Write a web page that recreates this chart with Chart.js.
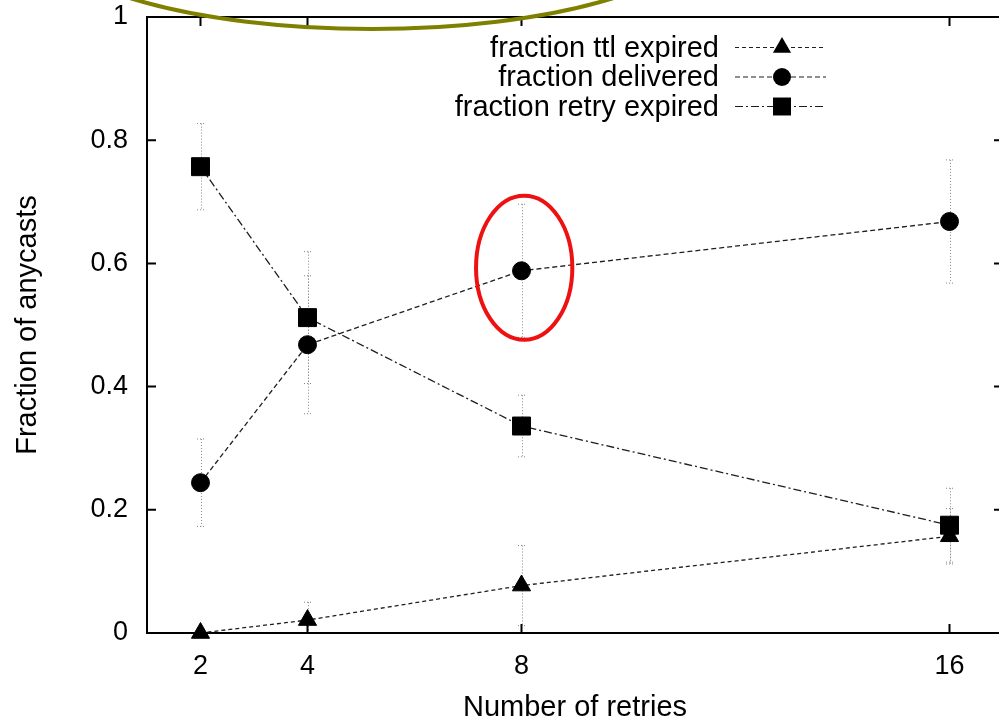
<!DOCTYPE html>
<html>
<head>
<meta charset="utf-8">
<style>
  html, body { margin: 0; padding: 0; overflow: hidden; background: #fff; }
  canvas { display: block; }
</style>
<script src="https://cdn.jsdelivr.net/npm/chart.js@4.4.1/dist/chart.umd.min.js"></script>
</head>
<body>
<canvas id="c" width="1010" height="722"></canvas>
<script>
// Outcome of anycast delivery versus retry limit
const retries = [2, 4, 8, 16];
const xTickValues = [2, 4, 8, 16];
const yTickValues = [0, 0.2, 0.4, 0.6, 0.8, 1];
const yTickLabels = ['0', '0.2', '0.4', '0.6', '0.8', '1'];

const ttlExpired      = [0.000, 0.021, 0.077, 0.157];
const ttlExpiredErr   = [0.000, 0.029, 0.065, 0.045];
const delivered       = [0.244, 0.468, 0.588, 0.668];
const deliveredErr    = [0.071, 0.112, 0.108, 0.100];
const retryExpired    = [0.757, 0.512, 0.336, 0.175];
const retryExpiredErr = [0.070, 0.107, 0.050, 0.060];

const seriesLabels = ['fraction ttl expired', 'fraction delivered', 'fraction retry expired'];

const FONT = 'Liberation Sans';
const LINE = '#1e1e1e';

function series(label, values, errs, style, radius, dash) {
  return {
    label,
    data: retries.map((x, i) => ({ x, y: values[i], err: errs[i] })),
    showLine: true,
    borderColor: LINE,
    borderWidth: 1.3,
    borderDash: dash,
    pointStyle: style,
    pointRadius: radius,
    pointBackgroundColor: '#000',
    pointBorderColor: '#000',
    pointBorderWidth: 1,
    clip: false
  };
}

function drawMarker(ctx, style, cx, cy, r) {
  ctx.beginPath();
  if (style === 'triangle') {
    const s = Math.sin(2 * Math.PI / 3) * r, c = Math.cos(2 * Math.PI / 3) * r;
    ctx.moveTo(cx, cy - r);
    ctx.lineTo(cx + s, cy - c);
    ctx.lineTo(cx - s, cy - c);
    ctx.closePath();
  } else if (style === 'circle') {
    ctx.arc(cx, cy, r, 0, Math.PI * 2);
  } else {
    const h = r * Math.SQRT1_2;
    ctx.rect(cx - h, cy - h, 2 * h, 2 * h);
  }
  ctx.fill();
}

// Frame with inward ticks on all four sides, error bars and the key
const gnuplotFrame = {
  id: 'gnuplotFrame',
  beforeDatasetsDraw(chart) {
    const { ctx, chartArea: a, scales: { x, y } } = chart;
    ctx.save();

    // error bars (clipped to the plot area)
    ctx.save();
    ctx.beginPath();
    ctx.rect(a.left, a.top, a.right - a.left, a.bottom - a.top);
    ctx.clip();
    ctx.strokeStyle = '#888';
    ctx.lineWidth = 1;
    ctx.setLineDash([1, 2]);
    chart.data.datasets.forEach(ds => {
      ds.data.forEach(p => {
        if (!p.err) return;
        const px = Math.round(x.getPixelForValue(p.x)) + 0.5;
        const top = y.getPixelForValue(p.y + p.err);
        const bot = y.getPixelForValue(p.y - p.err);
        ctx.beginPath();
        ctx.moveTo(px, top); ctx.lineTo(px, bot);
        ctx.moveTo(px - 4.5, top); ctx.lineTo(px + 4.5, top);
        ctx.moveTo(px - 4.5, bot); ctx.lineTo(px + 4.5, bot);
        ctx.stroke();
      });
    });
    ctx.restore();

    // border
    ctx.strokeStyle = '#000';
    ctx.lineWidth = 2;
    ctx.setLineDash([]);
    ctx.strokeRect(a.left, a.top, a.right - a.left, a.bottom - a.top);

    // ticks
    const tl = 9;
    ctx.beginPath();
    x.ticks.forEach(t => {
      const px = x.getPixelForValue(t.value);
      ctx.moveTo(px, a.bottom); ctx.lineTo(px, a.bottom - tl);
      ctx.moveTo(px, a.top); ctx.lineTo(px, a.top + tl);
    });
    y.ticks.forEach(t => {
      const py = y.getPixelForValue(t.value);
      ctx.moveTo(a.left, py); ctx.lineTo(a.left + tl, py);
      ctx.moveTo(a.right, py); ctx.lineTo(a.right - tl, py);
    });
    ctx.stroke();

    // key
    const styles = ['triangle', 'circle', 'rect'];
    const radii = [10.5, 9, 12.7];
    const textRight = a.left + 572;
    const sampleL = a.left + 588, sampleR = a.left + 679, markX = a.left + 635;
    ctx.font = '29px "' + FONT + '"';
    ctx.textAlign = 'right';
    ctx.textBaseline = 'middle';
    chart.data.datasets.forEach((ds, i) => {
      const ry = a.top + 30.5 + i * 29.5;
      ctx.fillStyle = '#000';
      ctx.fillText(ds.label, textRight, ry + 1);
      ctx.strokeStyle = LINE;
      ctx.lineWidth = 1.2;
      ctx.setLineDash(ds.borderDash);
      ctx.beginPath();
      ctx.moveTo(sampleL, ry); ctx.lineTo(sampleR, ry);
      ctx.stroke();
      ctx.setLineDash([]);
      ctx.fillStyle = '#000';
      drawMarker(ctx, styles[i], markX, ry, radii[i]);
    });
    ctx.restore();
  },
  afterDraw(chart) {
    const { ctx, scales: { x, y } } = chart;
    const marks = [
      { cx: 8.05, cy: 0.593, rx: 0.9, ry: 0.117, color: '#ee1111' },
      { cx: 5.2, cy: 1.1495, rx: 6.35, ry: 0.169, color: '#808000' }
    ];
    ctx.save();
    ctx.lineWidth = 4;
    marks.forEach(m => {
      const px = x.getPixelForValue(m.cx), py = y.getPixelForValue(m.cy);
      const rx = Math.abs(x.getPixelForValue(m.cx + m.rx) - px);
      const ry = Math.abs(y.getPixelForValue(m.cy + m.ry) - py);
      ctx.strokeStyle = m.color;
      ctx.beginPath();
      ctx.ellipse(px, py, rx, ry, 0, 0, Math.PI * 2);
      ctx.stroke();
    });
    ctx.restore();
  }
};

new Chart(document.getElementById('c'), {
  type: 'scatter',
  data: {
    datasets: [
      series(seriesLabels[0], ttlExpired, ttlExpiredErr, 'triangle', 10.5, [4, 3]),
      series(seriesLabels[1], delivered, deliveredErr, 'circle', 9, [5, 3]),
      series(seriesLabels[2], retryExpired, retryExpiredErr, 'rect', 12.7, [8, 3, 2, 3])
    ]
  },
  options: {
    responsive: false,
    animation: false,
    events: [],
    layout: { autoPadding: false, padding: { top: 17, right: 7, left: 0, bottom: 0 } },
    plugins: { legend: { display: false }, tooltip: { enabled: false } },
    scales: {
      x: {
        type: 'linear',
        min: 1,
        max: 17,
        afterBuildTicks: s => { s.ticks = xTickValues.map(v => ({ value: v })); },
        afterFit: s => {
          s.height = 89;
          s.paddingLeft = 0; s.paddingRight = 0;
        },
        grid: { display: false, drawTicks: false },
        border: { display: false },
        ticks: {
          padding: 17,
          autoSkip: false,
          maxRotation: 0,
          color: '#000',
          font: { family: FONT, size: 27 },
          callback: v => String(v)
        },
        title: {
          display: true,
          text: 'Number of retries',
          color: '#000',
          font: { family: FONT, size: 29 },
          padding: { top: 0, bottom: -3 }
        }
      },
      y: {
        type: 'linear',
        min: 0,
        max: 1,
        afterBuildTicks: s => { s.ticks = yTickValues.map(v => ({ value: v })); },
        afterFit: s => {
          s.width = 147;
          s.paddingTop = 0; s.paddingBottom = 0;
        },
        grid: { display: false, drawTicks: false },
        border: { display: false },
        ticks: {
          padding: 19,
          color: '#000',
          font: { family: FONT, size: 27 },
          callback: (v, i) => yTickLabels[i]
        },
        title: {
          display: true,
          text: 'Fraction of anycasts',
          color: '#000',
          font: { family: FONT, size: 29 },
          padding: { top: 11, bottom: 0 }
        }
      }
    }
  },
  plugins: [gnuplotFrame]
});
</script>
</body>
</html>
